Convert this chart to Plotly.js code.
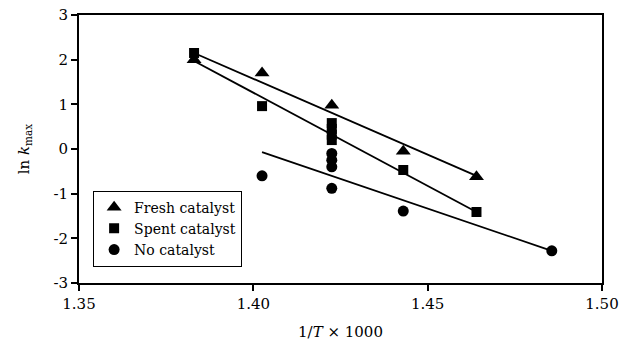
<!DOCTYPE html>
<html>
<head>
<meta charset="utf-8">
<script src="https://cdn.plot.ly/plotly-3.0.1.min.js"></script>
<style>html,body{margin:0;padding:0;background:#fff;}#chart{width:621px;height:349px;}</style>
</head>
<body>
<div id="chart"></div>
<script>
// Data
const freshX = [1.383, 1.4025, 1.4225, 1.443, 1.464];
const freshY = [2.0, 1.7, 0.98, -0.05, -0.62];
const spentX = [1.383, 1.4025, 1.4225, 1.4225, 1.4225, 1.4225, 1.443, 1.464];
const spentY = [2.15, 0.96, 0.58, 0.45, 0.32, 0.2, -0.47, -1.41];
const noneX = [1.4025, 1.4225, 1.4225, 1.4225, 1.4225, 1.443, 1.4856];
const noneY = [-0.6, -0.1, -0.25, -0.4, -0.88, -1.39, -2.28];
const fitFreshX = [1.383, 1.464];
const fitFreshY = [2.15, -0.6];
const fitSpentX = [1.383, 1.464];
const fitSpentY = [1.97, -1.41];
const fitNoneX = [1.4025, 1.4856];
const fitNoneY = [-0.07, -2.28];
const xTicks = [1.35, 1.40, 1.45, 1.50];
const xTickText = ["1.35", "1.40", "1.45", "1.50"];
const yTicks = [-3, -2, -1, 0, 1, 2, 3];
const yTickText = ["-3", "-2", "-1", "0", "1", "2", "3"];
const names = ["Fresh catalyst", "Spent catalyst", "No catalyst"];

const lineStyle = {color: "#000", width: 1.8};
const traces = [
  {x: fitFreshX, y: fitFreshY, mode: "lines", line: lineStyle, showlegend: false, hoverinfo: "skip"},
  {x: fitSpentX, y: fitSpentY, mode: "lines", line: lineStyle, showlegend: false, hoverinfo: "skip"},
  {x: fitNoneX, y: fitNoneY, mode: "lines", line: lineStyle, showlegend: false, hoverinfo: "skip"},
  {x: freshX, y: freshY, mode: "markers", name: names[0], marker: {symbol: "triangle-up", size: 13, color: "#000"}},
  {x: spentX, y: spentY, mode: "markers", name: names[1], marker: {symbol: "square", size: 10, color: "#000"}},
  {x: noneX, y: noneY, mode: "markers", name: names[2], marker: {symbol: "circle", size: 11, color: "#000"}}
];

const font = {family: "DejaVu Serif, Liberation Serif, serif", color: "#000", size: 14};
const layout = {
  width: 621, height: 349,
  margin: {l: 79, r: 19, t: 15, b: 66},
  paper_bgcolor: "#fff", plot_bgcolor: "#fff",
  font: font,
  showlegend: true,
  legend: {
    x: 0.027, y: 0.345, xanchor: "left", yanchor: "top",
    bordercolor: "#000", borderwidth: 1, bgcolor: "#fff",
    font: {family: "DejaVu Serif, serif", size: 14, color: "#000"},
    itemwidth: 30, tracegroupgap: 0
  },
  xaxis: {
    range: [1.35, 1.50], tickvals: xTicks, ticktext: xTickText,
    showgrid: false, zeroline: false, showline: true, linecolor: "#000", linewidth: 2,
    mirror: true, ticks: "outside", ticklen: 6, tickwidth: 2, tickcolor: "#000",
    tickfont: {family: "DejaVu Serif, serif", size: 15, color: "#000"},
    title: {text: "1/<i>T</i> × 1000", font: {family: "DejaVu Serif, serif", size: 15, color: "#000"}, standoff: 14}
  },
  yaxis: {
    range: [-3, 3], tickvals: yTicks, ticktext: yTickText,
    showgrid: false, zeroline: false, showline: true, linecolor: "#000", linewidth: 2,
    mirror: true, ticks: "outside", ticklen: 6, tickwidth: 2, tickcolor: "#000",
    tickfont: {family: "DejaVu Serif, serif", size: 15, color: "#000"},
    title: {text: "ln <i>k</i><sub>max</sub>", font: {family: "DejaVu Serif, serif", size: 15, color: "#000"}, standoff: 20}
  }
};

Plotly.newPlot("chart", traces, layout, {staticPlot: true, displayModeBar: false});
</script>
</body>
</html>
